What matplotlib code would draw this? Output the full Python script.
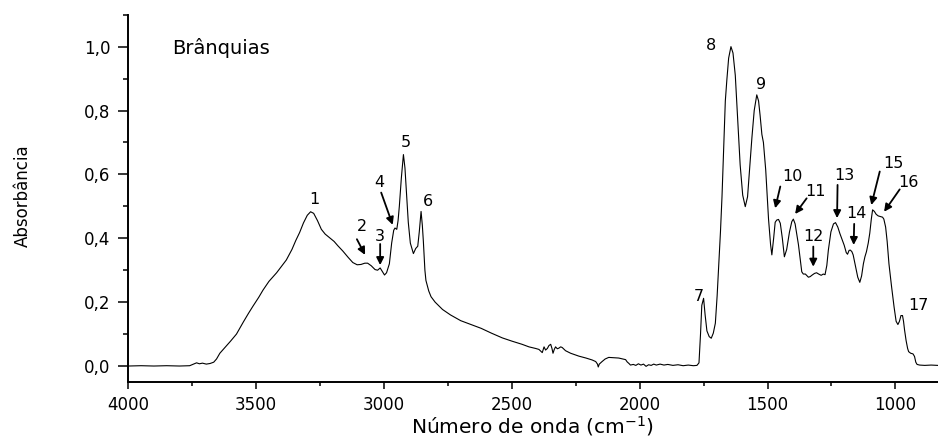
import matplotlib
matplotlib.use("Agg")
import matplotlib.pyplot as plt
from matplotlib.ticker import MultipleLocator, FuncFormatter

# ---- data ----
wavenumber = [
    4000, 3950, 3900, 3850, 3800, 3760, 3745, 3733, 3722, 3710, 3695, 3680, 3666, 3655,
    3642, 3620, 3600, 3577, 3550, 3530, 3512, 3490, 3473, 3450, 3420, 3400, 3382, 3360,
    3345, 3330, 3315, 3300, 3287, 3275, 3260, 3245, 3230, 3213, 3195, 3181, 3161, 3140,
    3122, 3105, 3090, 3075, 3064, 3050, 3035, 3025, 3015, 3006, 2998, 2990, 2979, 2970,
    2962, 2957, 2950, 2945, 2940, 2932, 2924, 2918, 2912, 2905, 2897, 2885, 2876, 2868,
    2862, 2855, 2850, 2846, 2840, 2836, 2825, 2816, 2800, 2771, 2740, 2700, 2660, 2620,
    2580, 2537, 2500, 2460, 2433, 2407, 2394, 2385, 2381, 2374, 2368, 2361, 2355, 2348,
    2343, 2339, 2334, 2329, 2322, 2316, 2309, 2303, 2290, 2270, 2238, 2210, 2186, 2172,
    2165, 2162, 2158, 2147, 2135, 2121, 2100, 2082, 2065, 2055, 2049, 2042, 2036, 2025,
    2015, 2005, 1995, 1985, 1975, 1965, 1955, 1945, 1935, 1920, 1905, 1890, 1870, 1850,
    1830, 1810, 1790, 1776, 1768, 1762, 1757, 1750, 1744, 1737, 1728, 1720, 1712, 1704,
    1697, 1691, 1684, 1678, 1671, 1665, 1659, 1652, 1643, 1635, 1626, 1617, 1607, 1597,
    1587, 1578, 1568, 1561, 1552, 1542, 1535, 1529, 1522, 1516, 1507, 1496, 1488, 1483,
    1476, 1470, 1464, 1457, 1450, 1442, 1434, 1425, 1414, 1405, 1399, 1392, 1385, 1379,
    1373, 1366, 1360, 1352, 1345, 1340, 1333, 1325, 1316, 1308, 1300, 1290, 1282, 1275,
    1268, 1262, 1252, 1242, 1234, 1225, 1217, 1210, 1200, 1192, 1187, 1181, 1176, 1170,
    1165, 1155, 1147, 1139, 1132, 1125, 1119, 1113, 1106, 1100, 1094, 1089, 1082, 1075,
    1067, 1058, 1050, 1045, 1038, 1032, 1025, 1015, 1005, 997, 990, 984, 978, 972,
    968, 964, 958, 952, 948, 940, 931, 925, 920, 915, 905, 885, 860, 835,
]
absorbance = [
    0.000, 0.001, 0.000, 0.001, 0.000, 0.001, 0.006, 0.010, 0.007, 0.009, 0.006, 0.008, 0.012, 0.022,
    0.040, 0.060, 0.078, 0.100, 0.138, 0.165, 0.188, 0.215, 0.238, 0.265, 0.292, 0.313, 0.332, 0.365,
    0.393, 0.418, 0.448, 0.472, 0.483, 0.478, 0.455, 0.428, 0.413, 0.402, 0.390, 0.377, 0.360, 0.340,
    0.324, 0.317, 0.318, 0.322, 0.322, 0.314, 0.302, 0.300, 0.307, 0.295, 0.285, 0.292, 0.320, 0.385,
    0.425, 0.432, 0.428, 0.455, 0.500, 0.590, 0.662, 0.620, 0.540, 0.450, 0.385, 0.352, 0.368, 0.375,
    0.420, 0.484, 0.440, 0.390, 0.300, 0.268, 0.235, 0.217, 0.200, 0.177, 0.160, 0.142, 0.130, 0.118,
    0.103, 0.088, 0.078, 0.068, 0.060, 0.055, 0.052, 0.045, 0.042, 0.060, 0.050, 0.055, 0.064, 0.068,
    0.055, 0.040, 0.052, 0.060, 0.054, 0.056, 0.060, 0.058, 0.048, 0.040, 0.031, 0.025, 0.019, 0.014,
    0.006, -0.003, 0.006, 0.014, 0.022, 0.027, 0.026, 0.025, 0.022, 0.020, 0.013, 0.008, 0.003, 0.005,
    0.002, 0.007, 0.003, 0.006, -0.001, 0.004, 0.002, 0.006, 0.003, 0.006, 0.003, 0.005, 0.002, 0.004,
    0.001, 0.003, 0.001, 0.002, 0.010, 0.100, 0.190, 0.212, 0.160, 0.110, 0.092, 0.087, 0.103, 0.134,
    0.220, 0.311, 0.420, 0.530, 0.690, 0.830, 0.896, 0.964, 1.000, 0.980, 0.910, 0.780, 0.630, 0.535,
    0.499, 0.530, 0.640, 0.715, 0.800, 0.849, 0.830, 0.785, 0.725, 0.700, 0.614, 0.460, 0.380, 0.348,
    0.400, 0.450, 0.457, 0.459, 0.447, 0.400, 0.342, 0.365, 0.420, 0.452, 0.460, 0.445, 0.410, 0.380,
    0.342, 0.295, 0.288, 0.288, 0.282, 0.278, 0.280, 0.285, 0.290, 0.292, 0.288, 0.284, 0.288, 0.286,
    0.315, 0.363, 0.420, 0.445, 0.449, 0.435, 0.415, 0.400, 0.378, 0.355, 0.350, 0.362, 0.363, 0.358,
    0.348, 0.310, 0.278, 0.262, 0.282, 0.320, 0.342, 0.358, 0.385, 0.416, 0.460, 0.489, 0.484, 0.475,
    0.470, 0.468, 0.466, 0.460, 0.435, 0.390, 0.320, 0.250, 0.185, 0.140, 0.130, 0.140, 0.158, 0.158,
    0.140, 0.113, 0.080, 0.055, 0.045, 0.040, 0.038, 0.030, 0.012, 0.005, 0.003, 0.002, 0.003, 0.002,
]

# peak labels: text, label position (wn, A)
peak_labels = ["1", "2", "3", "4", "5", "6", "7", "8", "9", "10", "11", "12", "13", "14", "15", "16", "17"]
label_wn = [3272, 3087, 3015, 3020, 2914, 2829, 1770, 1720, 1525, 1403, 1314, 1321, 1198, 1154, 1007, 947, 911]
label_abs = [0.52, 0.436, 0.405, 0.574, 0.699, 0.515, 0.217, 1.003, 0.88, 0.593, 0.546, 0.405, 0.595, 0.478, 0.633, 0.574, 0.188]

# arrows: tail (wn, A) -> head (wn, A)
arrow_tail_wn = [3106, 3015, 3011, 1450, 1347, 1321, 1226, 1161, 1061, 983]
arrow_tail_abs = [0.397, 0.382, 0.543, 0.562, 0.525, 0.374, 0.567, 0.445, 0.609, 0.553]
arrow_head_wn = [3074, 3015, 2966, 1470, 1392, 1321, 1228, 1163, 1094, 1044]
arrow_head_abs = [0.348, 0.316, 0.442, 0.494, 0.476, 0.311, 0.463, 0.379, 0.504, 0.483]

sample_name = "Brânquias"
x_label = "Número de onda (cm$^{-1}$)"
y_label = "Absorbância"

plt.rcParams['font.family'] = ['DejaVu Sans']

fig = plt.figure(figsize=(9.38, 4.41), dpi=100)
ax = fig.add_axes([0.1368, 0.1338, 0.8627, 0.8329])

ax.plot(wavenumber, absorbance, color='black', lw=0.8)

ax.set_xlim(4000, 835)
ax.set_ylim(-0.05, 1.10)

ax.xaxis.set_major_locator(MultipleLocator(500))
ax.xaxis.set_minor_locator(MultipleLocator(250))
ax.yaxis.set_major_locator(MultipleLocator(0.2))
ax.yaxis.set_minor_locator(MultipleLocator(0.1))
ax.yaxis.set_major_formatter(FuncFormatter(lambda v, p: f"{v:.1f}".replace('.', ',')))
ax.xaxis.set_major_formatter(FuncFormatter(lambda v, p: f"{int(round(v))}"))

for s in ['top', 'right']:
    ax.spines[s].set_visible(False)
for s in ['left', 'bottom']:
    ax.spines[s].set_linewidth(1.4)

ax.tick_params(axis='y', which='major', direction='out', length=7, width=1.1, pad=6, labelsize=12)
ax.tick_params(axis='y', which='minor', direction='out', length=3.5, width=1.1)
ax.tick_params(axis='x', which='major', direction='out', length=5, width=1.1, pad=5, labelsize=12)
ax.tick_params(axis='x', which='minor', direction='out', length=3, width=1.1)

ax.text(3830, 0.995, sample_name, fontsize=14, ha='left', va='center')

for t, xw, ya in zip(peak_labels, label_wn, label_abs):
    ax.text(xw, ya, t, fontsize=11.5, ha='center', va='center')

for tx, ty, hx, hy in zip(arrow_tail_wn, arrow_tail_abs, arrow_head_wn, arrow_head_abs):
    ax.annotate("", xy=(hx, hy), xytext=(tx, ty),
                arrowprops=dict(arrowstyle='-|>', color='black', lw=1.3,
                                mutation_scale=11, shrinkA=0, shrinkB=0))

fig.text(533 / 938, 0.018, x_label, fontsize=14.5, ha='center', va='baseline')
fig.text(23 / 938, 1 - 196 / 441, y_label, fontsize=12, rotation=90, ha='center', va='center')

fig.savefig("out.png", dpi=100)
